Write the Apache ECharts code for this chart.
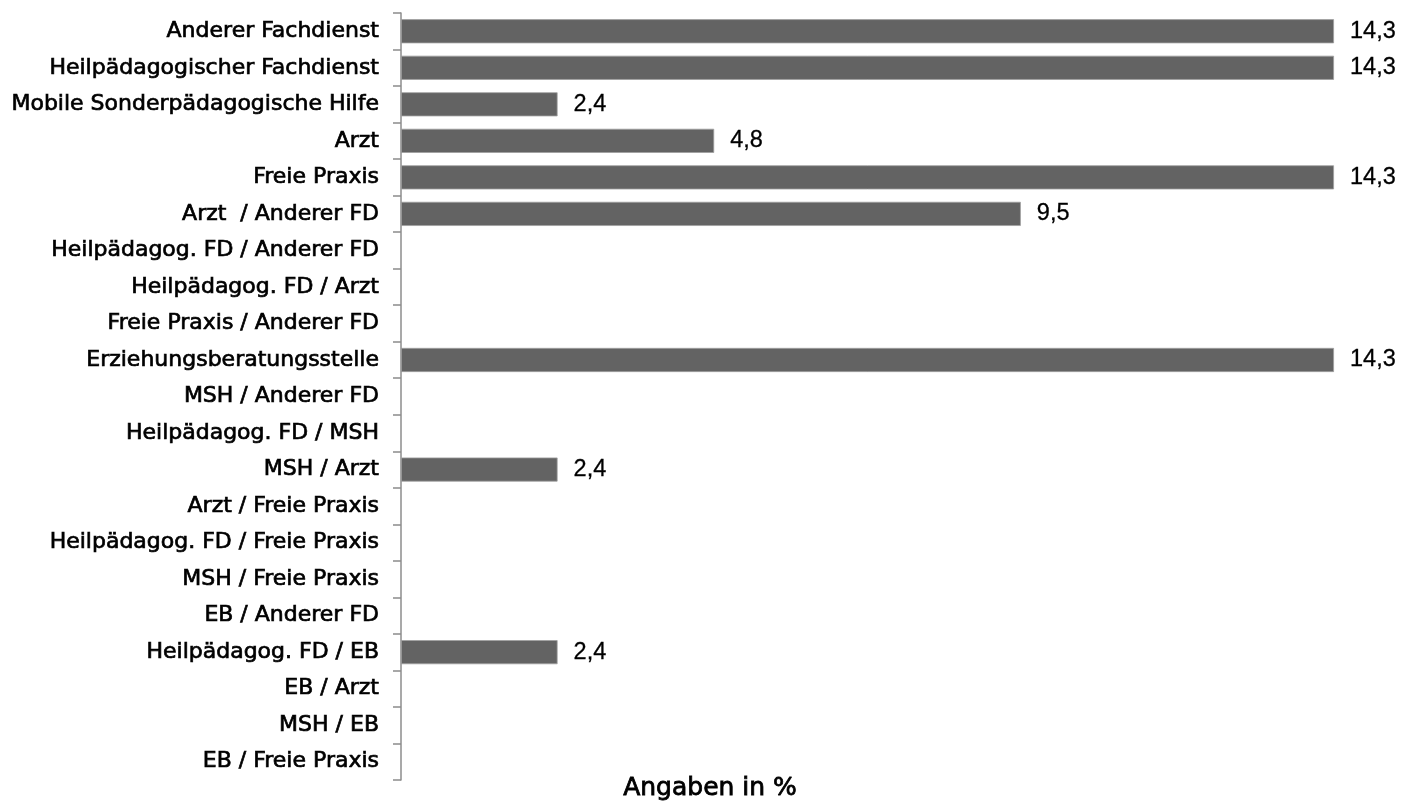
<!DOCTYPE html>
<html><head><meta charset="utf-8">
<script src="https://cdn.jsdelivr.net/npm/echarts@6/dist/echarts.min.js"></script>
<style>html,body{margin:0;padding:0;background:#fff}#c{width:1403px;height:804px}</style>
</head><body><div id="c"></div>
<script>
const categories = [
  "Anderer Fachdienst",
  "Heilpädagogischer Fachdienst",
  "Mobile Sonderpädagogische Hilfe",
  "Arzt",
  "Freie Praxis",
  "Arzt  / Anderer FD",
  "Heilpädagog. FD / Anderer FD",
  "Heilpädagog. FD / Arzt",
  "Freie Praxis / Anderer FD",
  "Erziehungsberatungsstelle",
  "MSH / Anderer FD",
  "Heilpädagog. FD / MSH",
  "MSH / Arzt",
  "Arzt / Freie Praxis",
  "Heilpädagog. FD / Freie Praxis",
  "MSH / Freie Praxis",
  "EB / Anderer FD",
  "Heilpädagog. FD / EB",
  "EB / Arzt",
  "MSH / EB",
  "EB / Freie Praxis"
];
const values = [14.3, 14.3, 2.4, 4.8, 14.3, 9.5, null, null, null, 14.3, null, null, 2.4, null, null, null, null, 2.4, null, null, null];
const axisTitle = "Angaben in %";

const FONT = '"DejaVu Sans", sans-serif';
const NUMFONT = '"Liberation Sans", Arial, sans-serif';
const chart = echarts.init(document.getElementById('c'));
chart.setOption({
  animation: false,
  grid: {left: 401, right: 69, top: 13, bottom: 24, containLabel: false},
  xAxis: {type: 'value', min: 0, max: 14.3, show: false},
  yAxis: {
    type: 'category', data: categories, inverse: true,
    axisLine: {show: true, lineStyle: {color: '#8c8c8c', width: 1.5}},
    axisTick: {show: true, length: 8, lineStyle: {color: '#8c8c8c', width: 1.5}},
    axisLabel: {color: '#000', fontFamily: FONT, fontSize: 22, margin: 22,
      textBorderColor: '#000', textBorderWidth: 0.7}
  },
  series: [{
    type: 'bar', data: values, barCategoryGap: '34%',
    itemStyle: {color: '#636363', borderColor: '#a0a0a0', borderWidth: 0.8},
    label: {show: true, position: 'right', distance: 16, color: '#000', fontFamily: NUMFONT, fontSize: 23.5,
      textBorderColor: '#000', textBorderWidth: 0.3,
      formatter: p => String(p.value).replace('.', ',')}
  }],
  graphic: [{
    type: 'text', x: 710, y: 788,
    style: {text: axisTitle, fill: '#000', font: '25px ' + FONT, align: 'center', verticalAlign: 'middle',
      stroke: '#000', lineWidth: 0.8}
  }]
});
</script></body></html>
